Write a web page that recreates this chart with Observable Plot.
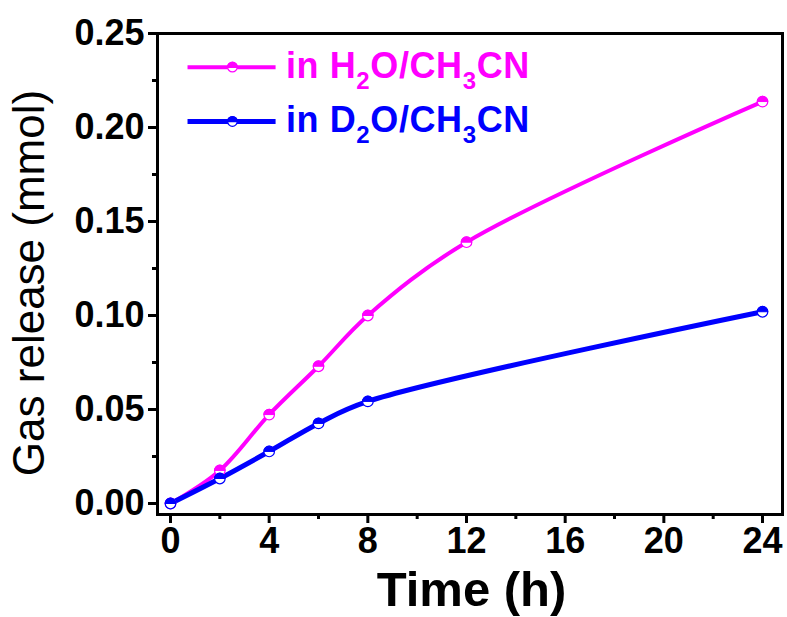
<!DOCTYPE html>
<html><head><meta charset="utf-8">
<script src="https://cdn.jsdelivr.net/npm/d3@7"></script>
<script src="https://cdn.jsdelivr.net/npm/@observablehq/plot@0.6"></script>
<style>
html,body{margin:0;padding:0;background:#fff;}
svg text{font-family:"Liberation Sans",Arial,sans-serif;}
.legtext text{letter-spacing: 0.6px;}
</style>
</head><body>
<div id="chart"></div>
<script>
const h2oHours = [0, 2, 4, 6, 8, 12, 24];
const h2oGas = [0, 0.0176, 0.0473, 0.0730, 0.1000, 0.1390, 0.2138];
const d2oHours = [0, 2, 4, 6, 8, 24];
const d2oGas = [0, 0.0133, 0.0277, 0.0426, 0.0543, 0.1020];
const xTicks = [0, 4, 8, 12, 16, 20, 24];
const xMinor = [2, 6, 10, 14, 18, 22];
const yTicks = [0, 0.05, 0.10, 0.15, 0.20, 0.25];
const yMinor = [0.025, 0.075, 0.125, 0.175, 0.225];
const seriesNames = ["in H2O/CH3CN", "in D2O/CH3CN"];
const seriesColors = ["#ff00ff", "#0000ff"];
const seriesWidths = [4, 5];
// legend layout (data units)
const legendX1 = 0.69, legendX2 = 4.26, legendXm = 2.51, legendXt = 4.68;
const legendY = [0.2321, 0.2032];

const h2o = h2oHours.map((t, i) => ({t, v: h2oGas[i], s: seriesNames[0]}));
const d2o = d2oHours.map((t, i) => ({t, v: d2oGas[i], s: seriesNames[1]}));
const legend = seriesNames.map((s, i) => ({s, y: legendY[i], c: seriesColors[i], w: seriesWidths[i]}));

const halfTop = {
  draw(ctx, size) {
    const r = Math.sqrt(size / Math.PI);
    ctx.moveTo(-r, 0);
    ctx.arc(0, 0, r, Math.PI, 2 * Math.PI);
    ctx.closePath();
  }
};
const R = 5.3;
function markers(data, color) {
  return [
    Plot.dot(data, {x: "t", y: "v", r: R, fill: "white", stroke: color, strokeWidth: 1.2}),
    Plot.dot(data, {x: "t", y: "v", r: R, symbol: halfTop, fill: color, stroke: color, strokeWidth: 1})
  ];
}

const chart = Plot.plot({
  width: 787, height: 617,
  marginLeft: 157, marginRight: 5, marginTop: 33, marginBottom: 103,
  style: {fontFamily: "Liberation Sans, Arial, sans-serif", background: "white"},
  x: {domain: [-0.527, 24.81]},
  y: {domain: [-0.00585, 0.25]},
  marks: [
    Plot.line(h2o, {x: "t", y: "v", stroke: seriesColors[0], strokeWidth: seriesWidths[0], curve: "catmull-rom"}),
    Plot.line(d2o, {x: "t", y: "v", stroke: seriesColors[1], strokeWidth: seriesWidths[1], curve: "catmull-rom"}),
    ...markers(h2o, seriesColors[0]),
    ...markers(d2o, seriesColors[1]),
    Plot.link(legend, {x1: legendX1, x2: legendX2, y1: "y", y2: "y", stroke: "c", strokeWidth: "w"}),
    Plot.dot(legend, {x: legendXm, y: "y", r: 4.8, fill: "white", stroke: "c", strokeWidth: 1.2}),
    Plot.dot(legend, {x: legendXm, y: "y", r: 4.8, symbol: halfTop, fill: "c", stroke: "c"}),
    Plot.text(legend, {x: legendXt, y: "y", text: "s", fill: "c", textAnchor: "start", fontSize: 36, fontWeight: "bold", dy: -1, className: "legtext"}),
    Plot.axisY(yMinor, {tickSize: 5, tickFormat: () => "", strokeWidth: 3, label: null}),
    Plot.axisY(yTicks, {tickSize: 9, tickPadding: 4, tickFormat: d3.format(".2f"), strokeWidth: 3, fontSize: 36, fontWeight: "bold", fill: "black", label: null}),
    Plot.axisX(xMinor, {tickSize: 5, tickFormat: () => "", strokeWidth: 3, label: null}),
    Plot.axisX(xTicks, {tickSize: 9, tickPadding: 4, strokeWidth: 3, fontSize: 36, fontWeight: "bold", fill: "black", label: null}),
    Plot.frame({stroke: "black", strokeWidth: 3})
  ]
});
document.getElementById("chart").appendChild(chart);

// subscripts in legend text
const svg = d3.select(chart);
svg.selectAll("g.legtext text").each(function() {
  const t = d3.select(this);
  const s = t.text();
  t.text(null);
  let sub = false;
  for (const p of s.split(/(\d)/)) {
    if (!p) continue;
    if (/^\d$/.test(p)) {
      t.append("tspan").attr("font-size", "24px").attr("dy", "11px").text(p);
      sub = true;
    } else {
      const ts = t.append("tspan").text(p);
      if (sub) ts.attr("dy", "-11px");
      sub = false;
    }
  }
});
// axis titles
svg.append("text").attr("x", (157 + 782) / 2 + 2).attr("y", 606).attr("text-anchor", "middle")
  .attr("font-size", 49).attr("font-weight", "bold").attr("fill", "black").text("Time (h)");
svg.append("text").attr("transform", "translate(44,283) rotate(-90)").attr("text-anchor", "middle")
  .attr("font-size", 44).attr("fill", "black").text("Gas release (mmol)");
</script>
</body></html>
